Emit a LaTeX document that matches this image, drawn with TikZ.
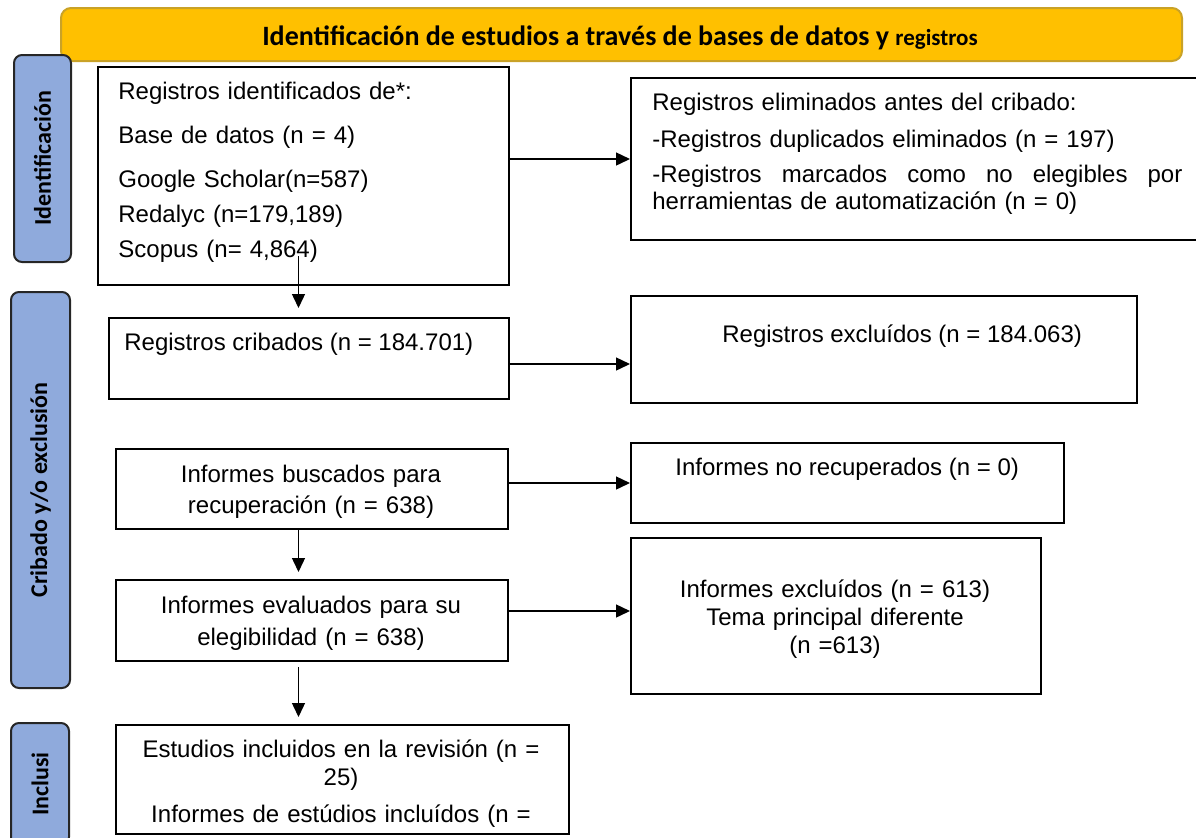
\documentclass[tikz,border=0pt]{standalone}
\usepackage{fontspec}
\setmainfont{Liberation Sans}
\newfontfamily\calib{Carlito}
\usetikzlibrary{arrows.meta,positioning}
\definecolor{bannergold}{HTML}{FFC000}
\definecolor{bannerline}{HTML}{C9A227}
\definecolor{phaseblue}{HTML}{8FAADC}
\tikzset{
  box/.style={draw=black,line width=1pt,anchor=north west,inner sep=0pt},
  phase/.style={draw=black!85,line width=1pt,fill=phaseblue,rounded corners=4pt,rotate=90,inner sep=0pt,
    font=\calib\bfseries\fontsize{12}{14}\selectfont},
  txt/.style={inner sep=0pt,font=\fontsize{12}{14}\selectfont},
  arr/.style={line width=0.7pt,-{Triangle[length=7pt,width=6.5pt]}},
}
\begin{document}
\begin{tikzpicture}[x=0.5pt,y=-0.5pt]
\useasboundingbox (0,0) rectangle (1196,837);
\clip (0,0) rectangle (1196,837);
% heading and phases:
\node[draw=bannerline,line width=1pt,fill=bannergold,rounded corners=5pt,inner sep=0pt,
  minimum width=560.5pt,minimum height=26.5pt] (head) at (621.5,34.5) {};
\node[txt,anchor=base,font=\calib\bfseries\fontsize{14}{16}\selectfont] (tHead) at (620,45)
  {Identificación de estudios a través de bases de datos y {\fontsize{11.5}{13}\selectfont registros}};
\node[phase,minimum width=103.5pt,minimum height=28.5pt] (fIdent) at (42.5,158.5) {Identificación};
\node[phase,minimum width=198pt,minimum height=29.5pt] (fCrib) at (40.5,490) {Cribado y/o exclusión};
\node[phase,minimum width=61pt,minimum height=29pt] (fIncl) at (40,784) {Inclusi};
% boxes:
\node[box,minimum width=205.5pt,minimum height=109pt] (ident) at (97,66) {};
\node[box,minimum width=290pt,minimum height=81pt] (elim) at (630,77) {};
\node[box,minimum width=200pt,minimum height=40.5pt] (crib) at (108,317) {};
\node[box,minimum width=253pt,minimum height=53.5pt] (excl) at (630,295) {};
\node[box,minimum width=196pt,minimum height=40pt] (busc) at (115,448) {};
\node[box,minimum width=216.5pt,minimum height=40pt] (norec) at (630,442) {};
\node[box,minimum width=196pt,minimum height=40.5pt] (eval) at (115,579) {};
\node[box,minimum width=205pt,minimum height=78pt] (exclinf) at (630,537) {};
\node[box,minimum width=226.5pt,minimum height=54.5pt] (incl) at (115,724) {};
% texts:
\node[txt,anchor=base west,text width=200pt,align=left,font=\fontsize{12}{17.5}\selectfont] (tIdentTxt) at (118,99)
  {Registros identificados de*:\\[4.5pt] Base de datos (n = 4)\\[4.5pt] Google Scholar(n=587)\\ Redalyc (n=179,189)\\ Scopus (n= 4,864)};
\node[txt,anchor=base west,text width=265pt,align=left,font=\fontsize{12}{13.5}\selectfont] (tElim) at (652,110)
  {Registros eliminados antes del cribado:\\[5pt] -Registros duplicados eliminados (n = 197)\\[4pt]
   \makebox[265pt][l]{-Registros\hfill marcados\hfill como\hfill no\hfill elegibles\hfill por}\\ herramientas de automatización (n = 0)};
\node[txt,anchor=base west] (tCrib) at (124,350) {Registros cribados (n = 184.701)};
\node[txt,anchor=base west] (tExcl) at (722,342) {Registros excluídos (n = 184.063)};
\node[txt,anchor=base,text width=190pt,align=center,font=\fontsize{12}{15.5}\selectfont] (tBusc) at (311,482)
  {Informes buscados para\\ recuperación (n = 638)};
\node[txt,anchor=base west] (tNorec) at (675,475) {Informes no recuperados (n = 0)};
\node[txt,anchor=base,text width=190pt,align=center,font=\fontsize{12}{16}\selectfont] (tEval) at (311,613)
  {Informes evaluados para su\\ elegibilidad (n = 638)};
\node[txt,anchor=base,text width=200pt,align=center] (tExclInf) at (835,597)
  {Informes excluídos (n = 613)\\ Tema principal diferente\\ (n =613)};
\node[txt,anchor=base,text width=220pt,align=center] (tIncl) at (341,757)
  {Estudios incluidos en la revisión (n =\\ 25)\\[4.5pt] Informes de estúdios incluídos (n =};
% connectors:
\coordinate (colx) at (298.5,0);
\draw[arr] (ident.east |- elim.west) -- (elim.west);
\draw[arr] ([yshift=-2.75pt]crib.east) -- ([yshift=-2.75pt]crib.east -| excl.west);
\draw[arr] (busc.east |- norec.west) -- (norec.west);
\draw[arr] ([yshift=4.75pt]eval.east) -- ([yshift=4.75pt]eval.east -| exclinf.west);
\draw[arr,shorten >=4.5pt] ([yshift=15pt]ident.south -| colx) -- (crib.north -| colx);
\draw[arr,shorten >=3.5pt] (busc.south -| colx) -- (eval.north -| colx);
\draw[arr,shorten >=3.5pt] ([yshift=-2.5pt]eval.south -| colx) -- (incl.north -| colx);
\end{tikzpicture}
\end{document}
